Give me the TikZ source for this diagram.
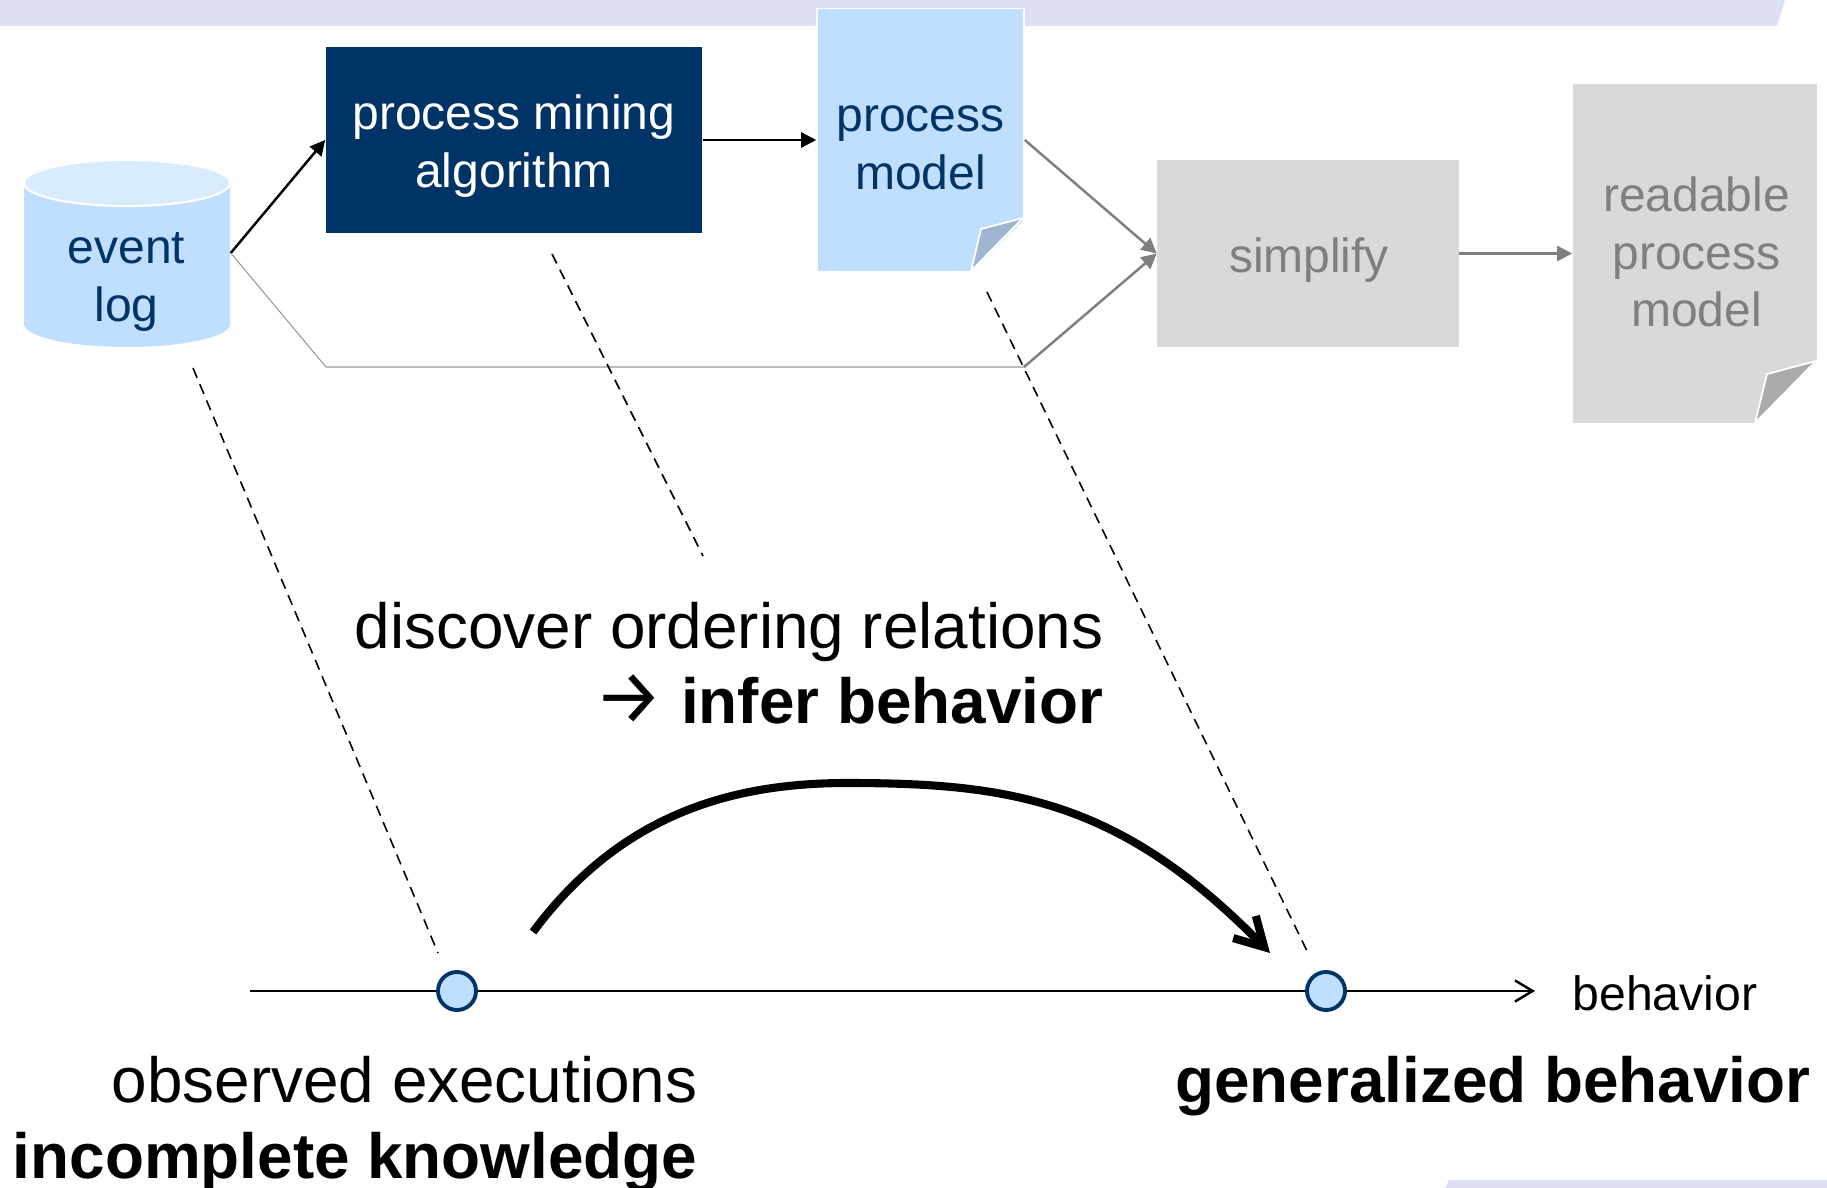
\documentclass[tikz,border=0pt]{standalone}
\usepackage{fontspec}
\setmainfont{Liberation Sans}
\newfontfamily\arrowfont{Fira Sans}[Scale=1.2]
\usetikzlibrary{arrows.meta}
\definecolor{navy}{HTML}{003366}
\definecolor{lightblue}{HTML}{C0DFFF}
\definecolor{paleblue}{HTML}{D8EBFF}
\definecolor{foldblue}{HTML}{9FB5D0}
\definecolor{band}{HTML}{DCE0F2}
\definecolor{greyfill}{HTML}{D9D9D9}
\definecolor{greyfold}{HTML}{ABABAB}
\definecolor{greytext}{HTML}{7F7F7F}
\tikzset{
  boxfont/.style={font=\fontsize{13.65}{16.4}\selectfont,align=center},
  bigfont/.style={font=\fontsize{18.15}{21.5}\selectfont,inner sep=0pt},
  algobox/.style={fill=navy,minimum width=3.76cm,minimum height=1.86cm},
  greybox/.style={fill=greyfill,minimum width=3.01cm,minimum height=1.86cm},
  bluedoc/.style={fill=lightblue,draw=white,line width=0.4pt,minimum width=2.07cm,minimum height=2.63cm},
  greydoc/.style={fill=greyfill,minimum width=2.44cm,minimum height=3.38cm},
  dot/.style={circle,fill=lightblue,draw=navy,line width=1.1pt,minimum size=0.38cm,inner sep=0pt},
  flow/.style={-{Triangle[length=4.3pt,width=4.3pt]},line width=0.7pt},
  relation/.style={line width=0.45pt,dash pattern=on 3pt off 2pt}
}
\begin{document}
\begin{tikzpicture}[x=0.01cm,y=0.01cm]
    \useasboundingbox (0,0) rectangle (1827,-1188);
    % Bands
    \fill[band] (0,0) -- (1785,0) -- (1777,-26) -- (0,-26) -- cycle;
    \fill[band] (1449,-1180) -- (1827,-1180) -- (1827,-1188) -- (1445,-1188) -- cycle;
    % Event log
    \fill[lightblue] (24,-183) -- (24,-324) arc[start angle=180,end angle=360,x radius=1.03cm,y radius=0.23cm] -- (230,-183) -- cycle;
    \fill[paleblue,draw=white,line width=0.6pt] (127,-183) ellipse[x radius=1.03cm,y radius=0.23cm];
    \node[minimum width=2.06cm,minimum height=1.87cm] (eventlog) at (127,-253) {};
    \node[boxfont,text=navy] (eventlabel) at (126.5,-282) {event\\log};
    % Upper row
    \node[algobox] (algorithm) at (514,-140) {};
    \node[boxfont,text=white] (algorithmlabel) at (514,-146) {process mining\\algorithm};
    \node[bluedoc] (model) at (920.5,-140) {};
    \node[boxfont,text=navy] (modellabel) at (920.5,-148) {process\\model};
    \node[greybox] (simplify) at (1308,-253.5) {};
    \node[boxfont,text=greytext] (simplifylabel) at (1309,-260) {simplify};
    \node[greydoc] (readable) at (1695,-253.5) {};
    \node[boxfont,text=greytext] (readablelabel) at (1696.5,-252) {readable\\process\\model};
    % Folded corners
    \fill[white] (1026,-271) -- (1026,-218) -- (971,-272) -- cycle;
    \fill[foldblue,draw=white,line width=0.5pt] (1023,-218) -- (981,-229) -- (971,-271) -- cycle;
    \fill[white] (1818,-423) -- (1818,-361) -- (1755,-423) -- cycle;
    \fill[greyfold,draw=white,line width=0.5pt] (1816,-361) -- (1767,-374) -- (1755,-423) -- cycle;
    % Flows
    \coordinate (bendleft) at (326,-367);
    \coordinate (bendright) at (1024,-367);
    \draw[flow] (eventlog.east) -- (algorithm.west);
    \draw[flow] (algorithm.east) -- (model.west);
    \draw[flow,greytext] (model.east) -- (simplify.west);
    \draw[flow,greytext] (simplify.east) -- (readable.west);
    \draw[greytext!80,line width=0.3pt] (eventlog.east) -- (bendleft) -- (bendright);
    \draw[flow,greytext] (bendright) -- (simplify.west);
    % Behavior axis
    \coordinate (axisstart) at (250,-991);
    \coordinate (axisend) at (1535,-991);
    \foreach \x/\name in {457/observed,1326/generalized}{
      \node[dot] (\name) at (\x,-991) {};
    }
    \draw[line width=0.7pt] (axisstart) -- (observed);
    \draw[line width=0.7pt] (observed) -- (generalized);
    \draw[line width=0.7pt,-{Straight Barb[length=5pt,width=6pt]}] (generalized) -- (axisend);
    \node[anchor=west,font=\fontsize{13.7}{15}\selectfont] (behavior) at (1560,-993) {behavior};
    % Dashed relations
    \foreach \a/\b/\c/\d in {193/-368/438/-953,552/-254/703/-556,987/-292/1308/-953}{
      \draw[relation] (\a,\b) -- (\c,\d);
    }
    % Inference
    \node[bigfont,anchor=east,align=right] (discover) at (1104,-663) {discover ordering relations\\{\arrowfont →} \textbf{infer behavior}};
    \coordinate (infertail) at (533,-932);
    \coordinate (infertip) at (1270,-953);
    \draw[line width=2.3pt,-{Straight Barb[length=8pt,width=9pt]}] (infertail) .. controls (620,-815) and (730,-783) .. (847,-783) .. controls (1010,-783) and (1120,-800) .. (infertip);
    % Lower labels
    \node[bigfont,anchor=east,align=right] (incomplete) at (698,-1124) {observed executions\\\textbf{incomplete knowledge}};
    \node[bigfont,anchor=east] (generalizedlabel) at (1811,-1086) {\textbf{generalized behavior}};
  \end{tikzpicture}
\end{document}
